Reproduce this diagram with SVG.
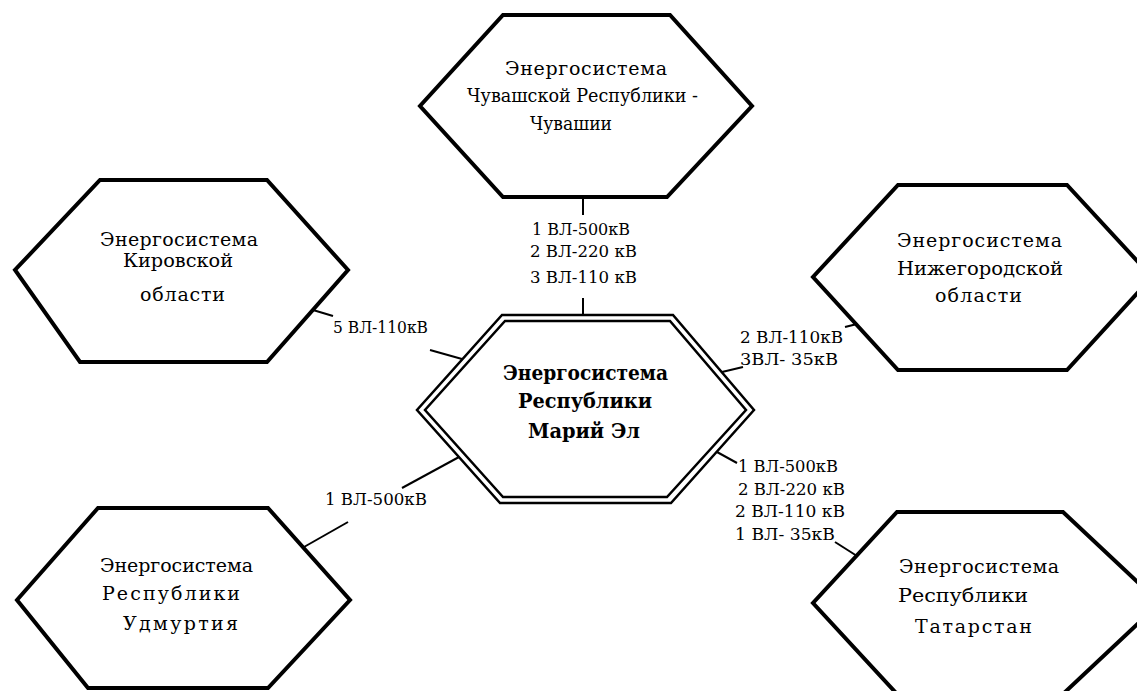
<svg xmlns="http://www.w3.org/2000/svg" width="1137" height="691" viewBox="0 0 1137 691">
<style>
.hex{fill:#fff;stroke:#000;stroke-width:4;stroke-linejoin:miter}
.hex2{fill:none;stroke:#000;stroke-width:2.5;stroke-linejoin:miter}
.t{font-family:"DejaVu Serif","Liberation Serif",serif;font-size:19px;fill:#000}
.b{font-family:"DejaVu Serif","Liberation Serif",serif;font-size:21px;font-weight:bold;fill:#000}
.l{font-family:"DejaVu Serif","Liberation Serif",serif;font-size:17px;fill:#000}
.c line{stroke:#000;stroke-width:2}
</style>
<rect width="1137" height="691" fill="#fff"/>
<g id="connectors" class="c">
<line x1="583" y1="197" x2="583" y2="215"/>
<line x1="583" y1="298" x2="583" y2="315"/>
<line x1="313" y1="310" x2="333" y2="316"/>
<line x1="430" y1="350" x2="462" y2="359"/>
<line x1="722" y1="372" x2="743" y2="367"/>
<line x1="845" y1="327" x2="857" y2="324"/>
<line x1="459" y1="457" x2="402" y2="488"/>
<line x1="348" y1="522" x2="304" y2="547"/>
<line x1="717" y1="452" x2="737" y2="463"/>
<line x1="835" y1="542" x2="857" y2="556"/>
</g>
<g id="labels">
<text class="l" x="532" y="235" textLength="98" lengthAdjust="spacingAndGlyphs">1 ВЛ-500кВ</text>
<text class="l" x="530" y="257" textLength="107" lengthAdjust="spacingAndGlyphs">2 ВЛ-220 кВ</text>
<text class="l" x="530" y="283" textLength="107" lengthAdjust="spacingAndGlyphs">3 ВЛ-110 кВ</text>
<text class="l" x="333" y="333" textLength="95" lengthAdjust="spacingAndGlyphs">5 ВЛ-110кВ</text>
<text class="l" x="740" y="343" textLength="103" lengthAdjust="spacingAndGlyphs">2 ВЛ-110кВ</text>
<text class="l" x="740" y="365" textLength="98" lengthAdjust="spacingAndGlyphs">3ВЛ- 35кВ</text>
<text class="l" x="325" y="505" textLength="102" lengthAdjust="spacingAndGlyphs">1 ВЛ-500кВ</text>
<text class="l" x="738" y="472" textLength="100" lengthAdjust="spacingAndGlyphs">1 ВЛ-500кВ</text>
<text class="l" x="738" y="495" textLength="107" lengthAdjust="spacingAndGlyphs">2 ВЛ-220 кВ</text>
<text class="l" x="735" y="517" textLength="110" lengthAdjust="spacingAndGlyphs">2 ВЛ-110 кВ</text>
<text class="l" x="735" y="540" textLength="100" lengthAdjust="spacingAndGlyphs">1 ВЛ- 35кВ</text>
</g>
<g id="node-chuvash">
<polygon class="hex" points="503,15 670,15 752,106 667,197 503,197 420,106"/>
<text class="t" x="505" y="75" textLength="162" lengthAdjust="spacing">Энергосистема</text>
<text class="t" x="467" y="102" textLength="231" lengthAdjust="spacingAndGlyphs">Чувашской Республики -</text>
<text class="t" x="530" y="130" textLength="82" lengthAdjust="spacingAndGlyphs">Чувашии</text>
</g>
<g id="node-kirov">
<polygon class="hex" points="100,180 267,180 348,270 267,362 80,362 15,270"/>
<text class="t" x="100" y="246" textLength="158" lengthAdjust="spacing">Энергосистема</text>
<text class="t" x="123" y="267" textLength="110" lengthAdjust="spacingAndGlyphs">Кировской</text>
<text class="t" x="140" y="301" textLength="85" lengthAdjust="spacing">области</text>
</g>
<g id="node-nizhny">
<polygon class="hex" points="898,185 1067,185 1152,277 1067,370 898,370 813,277"/>
<text class="t" x="897" y="247" textLength="165" lengthAdjust="spacing">Энергосистема</text>
<text class="t" x="897" y="275" textLength="166" lengthAdjust="spacingAndGlyphs">Нижегородской</text>
<text class="t" x="935" y="302" textLength="87" lengthAdjust="spacing">области</text>
</g>
<g id="node-udmurt">
<polygon class="hex" points="98,508 268,508 350,600 268,688 88,688 17,600"/>
<text class="t" x="100" y="572" textLength="153" lengthAdjust="spacing">Энергосистема</text>
<text class="t" x="102" y="600" textLength="138" lengthAdjust="spacing">Республики</text>
<text class="t" x="123" y="630" textLength="115" lengthAdjust="spacing">Удмуртия</text>
</g>
<g id="node-tatarstan">
<polygon class="hex" points="897,512 1063,512 1160,603 1063,694 897,694 813,603"/>
<text class="t" x="899" y="573" textLength="160" lengthAdjust="spacing">Энергосистема</text>
<text class="t" x="898" y="602" textLength="130" lengthAdjust="spacingAndGlyphs">Республики</text>
<text class="t" x="915" y="633" textLength="117" lengthAdjust="spacing">Татарстан</text>
</g>
<g id="node-mariel">
<polygon class="hex2" points="502,315 673,315 754,410 671,503 500,503 417,410" fill="#fff"/>
<polygon class="hex2" points="505,321 670,321 746,410 667,497 503,497 425,410"/>
<text class="b" x="503" y="380" textLength="165" lengthAdjust="spacingAndGlyphs">Энергосистема</text>
<text class="b" x="518" y="408" textLength="134" lengthAdjust="spacingAndGlyphs">Республики</text>
<text class="b" x="528" y="438" textLength="112" lengthAdjust="spacingAndGlyphs">Марий Эл</text>
</g>
</svg>
